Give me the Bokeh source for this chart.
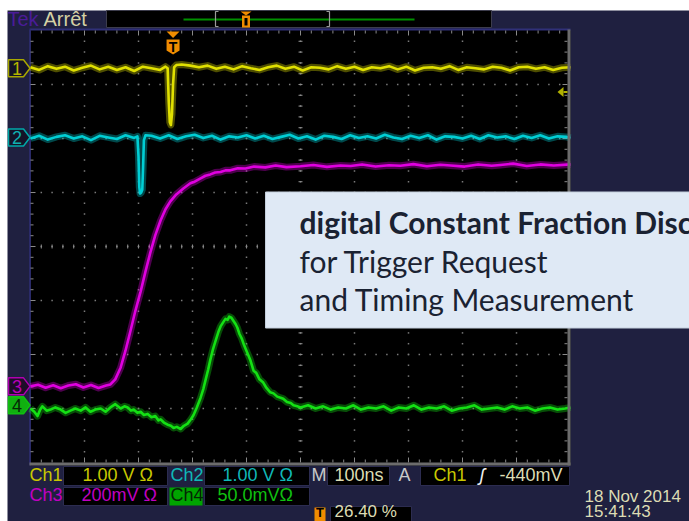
from bokeh.plotting import figure
from bokeh.models import Range1d, Label
from bokeh.embed import file_html
from bokeh.resources import INLINE

# ---------------- scope settings ----------------
TIME_PER_DIV_NS = 100.0
TRIGGER_POS_PCT = 26.40
TRIG_SOURCE = "Ch1"
TRIG_LEVEL_V = -0.440
TRIG_LEVEL_TEXT = "-440mV"
TIMEBASE_TEXT = "100ns"
TRIG_POS_TEXT = "26.40 %"
DATE_TEXT = "18 Nov 2014"
TIME_TEXT = "15:41:43"
STATUS_TEXT = "Arr\u00eat"

CH_NAMES = ["Ch1", "Ch2", "Ch3", "Ch4"]
CH_SCALE_V = [1.00, 1.00, 0.200, 0.0500]
CH_SCALE_TEXT = ["1.00 V \u03a9", "1.00 V \u03a9", "200mV \u03a9", "50.0mV\u03a9"]
CH_POS_DIV = [3.30, 2.02, -2.59, -2.94]          # ground markers (div from centre)
CH_COLORS = ["#e0e000", "#00ced4", "#e000e0", "#14e014"]

OVERLAY_TITLE = "digital Constant Fraction Discriminator"
OVERLAY_LINES = ["for Trigger Request", "and Timing Measurement"]

# Ch1 (V) vs time (ns)
T1 = [-264, -248, -232, -216, -200, -184, -168, -152, -136, -120, -104, -88, -72, -56, -40, -24,
      -14, -10, -8, -6, -4, -2, 0, 2, 6,
      16, 32, 48, 64, 80, 96, 112, 128, 144, 160, 176, 192, 208, 224, 240, 256, 272, 288, 304, 320,
      336, 352, 368, 384, 400, 416, 432, 448, 464, 480, 496, 512, 528, 544, 560, 576, 592, 608, 624, 640,
      656, 672, 688, 704, 720, 736]
V1 = [0.02, -0.03, 0.04, -0.01, 0.03, -0.04, 0.01, 0.05, -0.02, 0.03, -0.03, 0.02, -0.05, 0.03, 0.00, -0.03,
      0.03, 0.00, -0.62, -1.00, -1.05, -0.85, -0.30, 0.02, 0.06,
      0.07, 0.05, 0.02, 0.05, -0.01, 0.03, -0.02, 0.04, 0.00, -0.03,
      0.02, 0.05, -0.01, 0.03, -0.04, 0.02, 0.01, -0.02, 0.04, -0.01,
      0.03, -0.03, 0.02, 0.00, 0.04, -0.02, 0.03, -0.04, 0.01, 0.02,
      -0.01, 0.04, -0.03, 0.02, 0.00, -0.02, 0.03, 0.01, -0.04, 0.02,
      0.03, -0.01, 0.02, -0.03, 0.01, 0.02]

# Ch2 (V)
T2 = [-264, -248, -232, -216, -200, -184, -168, -152, -136, -120, -104, -88, -72,
      -66, -64, -62.5, -61, -59, -57, -55.5, -54, -51,
      -40, -24, -8, 8, 24, 40, 56, 72, 88, 104, 120, 136, 152, 168, 184, 200, 216, 232, 248, 264,
      280, 296, 312, 328, 344, 360, 376, 392, 408, 424, 440, 456, 472, 488, 504, 520, 536, 552, 568, 584,
      600, 616, 632, 648, 664, 680, 696, 712, 728, 736]
V2 = [-0.02, 0.03, -0.04, 0.01, 0.04, -0.02, 0.02, -0.05, 0.03, 0.00, -0.03, 0.04, -0.01,
      0.02, -0.35, -0.92, -1.04, -1.02, -0.97, -0.55, -0.05, 0.04,
      0.03, -0.02, 0.04, -0.03, 0.02, 0.05, -0.01, 0.03, -0.04, 0.02,
      0.00, 0.04, -0.02, 0.03, -0.03, 0.01, 0.05, -0.02, 0.02, -0.04,
      0.03, 0.01, -0.03, 0.04, -0.01, 0.02, -0.02, 0.05, 0.00, -0.03,
      0.03, -0.01, 0.04, -0.04, 0.02, 0.01, -0.02, 0.03, -0.03, 0.04,
      0.00, 0.02, -0.03, 0.03, -0.01, 0.04, -0.02, 0.02, 0.01, -0.01]

# Ch3 (mV)
T3 = [-264, -250, -236, -222, -208, -194, -180, -166, -152, -138,
      -124, -116, -107, -97, -88, -79, -70, -60, -51, -42,
      -33, -23, -14, -5, 6, 19, 32, 40, 51, 60,
      69, 78, 88, 97, 106, 120, 134, 150, 171, 190,
      210, 236, 260, 285, 310, 329, 350, 375, 400, 421,
      445, 470, 495, 514, 540, 565, 590, 606, 630, 655,
      680, 705, 736]
V3_MV = [0, 6, -5, 4, -7, 3, 8, -4, 5, -6,
         3, 7, 26, 70, 133, 204, 278, 352, 426, 496,
         559, 615, 656, 685, 711, 733, 752, 758, 770, 780,
         785, 792, 794, 800, 800, 808, 807, 814, 811, 818,
         812, 815, 820, 813, 818, 816, 822, 814, 819, 817,
         823, 815, 821, 818, 814, 822, 817, 820, 825, 816,
         822, 818, 822]

# Ch4 (mV)
T4 = [-264, -257, -251, -246, -242, -234, -227, -218, -208, -199,
      -190, -181, -171, -162, -153, -144, -134, -125, -116, -107,
      -97, -90, -84, -78, -73, -66, -60, -54, -47, -40,
      -33, -27, -23, -17, -10, -4, 1, 7, 14, 20,
      27, 33, 38, 44, 51, 56, 60, 65, 69, 74,
      79, 84, 88, 93, 97, 101, 104, 108, 112, 116,
      119, 123, 127, 132, 138, 143, 149, 154, 160, 167,
      173, 180, 186, 193, 199, 204, 211, 218, 223, 230,
      236, 250, 264, 278, 292, 306, 320, 334, 348, 362,
      376, 390, 404, 418, 432, 446, 460, 474, 488, 502,
      516, 530, 544, 558, 572, 586, 600, 614, 628, 642,
      656, 670, 684, 698, 712, 726, 736]
V4_MV = [-3, -6, -10, -4, -1, -5, -4, -2, -4, -7,
         -5, -3, -5, -2, -6, -4, -3, -6, -2, 1,
         -3, -1, -2, -5, -4, -7, -6, -9, -8, -11,
         -10, -14, -13, -16, -18, -19, -21, -20, -22, -19,
         -17, -13, -9, -2, 7, 15, 23, 33, 42, 52,
         60, 68, 73, 77, 80, 79, 82, 81, 78, 75,
         72, 66, 62, 55, 48, 42, 32, 30, 24, 21,
         16, 12, 11, 8, 7, 6, 3, 2, 0, -1,
         -2, 0, -3, -1, -4, -2, -3, 0, -4, -2,
         -3, -1, -5, -2, -3, 0, -4, -2, -3, -1,
         -5, -3, -2, 0, -4, -3, -2, -4, -1, -3,
         -2, -5, -3, -2, -4, -3, -2]

TRACES_T = [T1, T2, T3, T4]
TRACES_V = [V1, V2, [v / 1000.0 for v in V3_MV], [v / 1000.0 for v in V4_MV]]

# ---------------- screen geometry ----------------
W, H = 689, 521
GX0, GX1, GY0, GY1 = 30, 570, 30, 462
PX_PER_DIV = 54.0
GYC = 246.0
N_HDIV, N_VDIV, N_MINOR = 10, 8, 5
T_LEFT = -TRIGGER_POS_PCT / 100.0 * N_HDIV * TIME_PER_DIV_NS
PX_PER_NS = PX_PER_DIV / TIME_PER_DIV_NS


def X(px):
    return T_LEFT + (px - GX0) / PX_PER_NS


def Y(py):
    return (GYC - py) / PX_PER_DIV


NAVY = "#1f2040"
SCOPE_FONT = "'Liberation Sans', 'DejaVu Sans', sans-serif"
BEIGE = "#dcdcb4"

p = figure(width=W, height=H, x_range=Range1d(X(0), X(W)), y_range=Range1d(Y(H), Y(0)),
           output_backend="svg", toolbar_location=None, x_axis_location=None,
           y_axis_location=None, min_border=0, outline_line_color=None,
           background_fill_color="white", border_fill_color="white")
p.grid.visible = False


def box(l, r, t, b, fill, line=None, lw=1):
    p.quad(left=[X(l)], right=[X(r)], top=[Y(t)], bottom=[Y(b)], fill_color=fill,
           line_color=line, line_width=lw)


def poly(pts, fill, line=None, lw=1):
    p.patch([X(a) for a, _ in pts], [Y(b) for _, b in pts], fill_color=fill,
            line_color=line, line_width=lw)


def label(px, py, text, color, size=18, font=SCOPE_FONT, style="normal", align="left"):
    # py is the visual middle of the text line
    p.add_layout(Label(x=X(px), y=Y(py), text=text, text_color=color,
                       text_font=font, text_font_size=f"{size}px", text_font_style=style,
                       text_align=align, text_baseline="middle"))


# navy instrument background
box(7, W + 5, 10, H + 5, NAVY)

# ---------------- top status bar ----------------
label(7, 18, "Tek", "#4a1c98", size=20)
label(43, 18, STATUS_TEXT, "#d4d0a4", size=20)
box(106, 491, 10, 27, "black", "#3c3c4c")
p.segment(x0=[X(183)], y0=[Y(19)], x1=[X(414)], y1=[Y(19)], line_color="#009000", line_width=2)
for bx, d in ((215, 1), (329, -1)):
    p.line([X(bx + 3 * d), X(bx), X(bx), X(bx + 3 * d)], [Y(11), Y(11), Y(26), Y(26)],
           line_color="#9a9a9a", line_width=1.2)
poly([(240, 11), (251, 11), (245.5, 15)], "#f08c00")
box(241.5, 249.5, 15, 27, "#f08c00")
box(244, 247, 17.5, 25, "black")

# ---------------- graticule ----------------
box(29, GX1, 29, GY1 + 3, "black")
p.segment(x0=[X(29)], y0=[Y(29)], x1=[X(GX1)], y1=[Y(29)], line_color="#303078", line_width=2)
p.segment(x0=[X(29.5)], y0=[Y(29)], x1=[X(29.5)], y1=[Y(GY1 + 3)], line_color="#2a2a68", line_width=2)

minor = PX_PER_DIV / N_MINOR
dx, dy = [], []
for k in range(1, N_HDIV):
    if k == N_HDIV // 2:
        continue
    for j in range(1, N_VDIV * N_MINOR):
        dx.append(X(GX0 + k * PX_PER_DIV))
        dy.append(Y(GY0 + j * minor))
for m in range(1, N_VDIV):
    if m == N_VDIV // 2:
        continue
    for i in range(1, N_HDIV * N_MINOR):
        dx.append(X(GX0 + i * minor))
        dy.append(Y(GY0 + m * PX_PER_DIV))
p.scatter(dx, dy, marker="square", size=1.5, fill_color="#7a7a7a", line_color=None)

sx0, sy0, sx1, sy1 = [], [], [], []
cx = GX0 + N_HDIV // 2 * PX_PER_DIV
for i in range(1, N_HDIV * N_MINOR):
    xx = GX0 + i * minor
    ln = 5 if i % N_MINOR == 0 else 3
    for a, b in ((GYC - 2, GYC + 2), (GY0, GY0 + ln), (GY1, GY1 - ln)):
        sx0.append(X(xx)); sx1.append(X(xx)); sy0.append(Y(a)); sy1.append(Y(b))
for j in range(1, N_VDIV * N_MINOR):
    yy = GY0 + j * minor
    ln = 5 if j % N_MINOR == 0 else 3
    for a, b in ((cx - 2, cx + 2), (GX0, GX0 + ln), (GX1 - 3, GX1 - 3 - ln)):
        sx0.append(X(a)); sx1.append(X(b)); sy0.append(Y(yy)); sy1.append(Y(yy))
p.segment(x0=sx0, y0=sy0, x1=sx1, y1=sy1, line_color="#8a8a8a", line_width=1)
p.scatter([X(GX0 + i * minor) for i in range(1, N_HDIV * N_MINOR)], [Y(GYC)] * (N_HDIV * N_MINOR - 1),
          marker="square", size=1.5, fill_color="#8a8a8a", line_color=None)
p.scatter([X(cx)] * (N_VDIV * N_MINOR - 1), [Y(GY0 + j * minor) for j in range(1, N_VDIV * N_MINOR)],
          marker="square", size=1.5, fill_color="#8a8a8a", line_color=None)

# ---------------- waveforms (persistence band + bright core) ----------------
for t, v, pos, sc, col in zip(TRACES_T, TRACES_V, CH_POS_DIV, CH_SCALE_V, CH_COLORS):
    yv = [pos + vv / sc for vv in v]
    p.line(t, yv, line_color=col, line_width=7, line_alpha=0.35, line_join="round")
    p.line(t, yv, line_color=col, line_width=2.6, line_join="round")

# graticule frame (right / bottom grey edges)
p.segment(x0=[X(GX1 - 1.5)], y0=[Y(29)], x1=[X(GX1 - 1.5)], y1=[Y(GY1 + 3)], line_color="#6c6c6c", line_width=3)
p.segment(x0=[X(29)], y0=[Y(GY1 + 1.5)], x1=[X(GX1)], y1=[Y(GY1 + 1.5)], line_color="#6c6c6c", line_width=3)

# trigger position marker
tpx = GX0 + TRIGGER_POS_PCT / 100.0 * (GX1 - GX0)
poly([(tpx - 6.5, 31), (tpx + 6.5, 31), (tpx, 37.5)], "#f08c00")
poly([(tpx - 6.5, 39), (tpx + 6.5, 39), (tpx + 6.5, 50), (tpx, 54), (tpx - 6.5, 50)], "#f08c00")
label(tpx, 46, "T", "black", size=14, style="bold", align="center")

# trigger level arrow (right edge, on Ch1)
ty = GYC - (CH_POS_DIV[0] + TRIG_LEVEL_V / CH_SCALE_V[0]) * PX_PER_DIV
poly([(557, ty), (563, ty - 5), (563, ty + 5)], "#b0b000")
p.segment(x0=[X(563)], y0=[Y(ty)], x1=[X(567)], y1=[Y(ty)], line_color="#b0b000", line_width=2)

# channel ground markers
MARK_STYLE = [("#141428", "#a8a800", "#b4b400"), ("#141428", "#00a8a8", "#10b0b0"),
              ("#1e0c28", "#b000b0", "#b800b8"), ("#10b010", "#10c010", "#062806")]
for i, (fill, line, tcol) in enumerate(MARK_STYLE):
    c = GYC - CH_POS_DIV[i] * PX_PER_DIV
    poly([(8, c - 8.5), (23, c - 8.5), (29.5, c), (23, c + 8.5), (8, c + 8.5)], fill, line, 1.5)
    label(16.5, c + 0.5, str(i + 1), tcol, size=18, align="center")

# ---------------- overlay box ----------------
box(265, W + 10, 191.5, 327.5, "#dfe9f5", "#c4cfdc")
label(299, 221, OVERLAY_TITLE, "#1a2232", size=30, font="Lato", style="bold")
label(299, 260, OVERLAY_LINES[0], "#1a2232", size=30, font="Lato")
label(299, 298, OVERLAY_LINES[1], "#1a2232", size=30, font="Lato")

# ---------------- bottom readout ----------------
R1, R2, R3 = 474, 494, 511
for l, r, t, b in ((63, 167, 466, 485), (204, 309, 466, 485), (327, 389, 466, 485),
                   (420, 569, 466, 485), (63, 167, 487, 505), (204, 309, 487, 505),
                   (330, 411, 506, 524)):
    box(l, r, t, b, "black", "#2c2c50")
box(169, 202, 487, 505, "#00a400")

label(29, R1, CH_NAMES[0], "#c8c800")
label(82, R1, CH_SCALE_TEXT[0], "#c8c800")
label(170, R1, CH_NAMES[1], "#10b8b8")
label(222, R1, CH_SCALE_TEXT[1], "#10b8b8")
label(311, R1, "M", "#c8c8c8")
label(334, R1, TIMEBASE_TEXT, BEIGE)
label(398, R1, "A", "#c8c8c8")
label(433, R1, TRIG_SOURCE, "#c8c800")
label(479, R1, "\u0283", "#f0f0f0", style="italic")
label(499, R1, TRIG_LEVEL_TEXT, BEIGE)

label(29, R2, CH_NAMES[2], "#c000c0")
label(81, R2, CH_SCALE_TEXT[2], "#c000c0")
label(170, R2, CH_NAMES[3], "#052405")
label(217, R2, CH_SCALE_TEXT[3], "#10c010")

box(314, 325, 507, 521, "#f08c00")
label(319.5, R3 + 1, "T", "black", size=13, style="bold", align="center")
label(334, R3, TRIG_POS_TEXT, BEIGE, size=17)
label(584, 496, DATE_TEXT, BEIGE, size=17)
label(584, R3, TIME_TEXT, BEIGE, size=17)

open("out.html", "w").write(file_html(p, INLINE))
